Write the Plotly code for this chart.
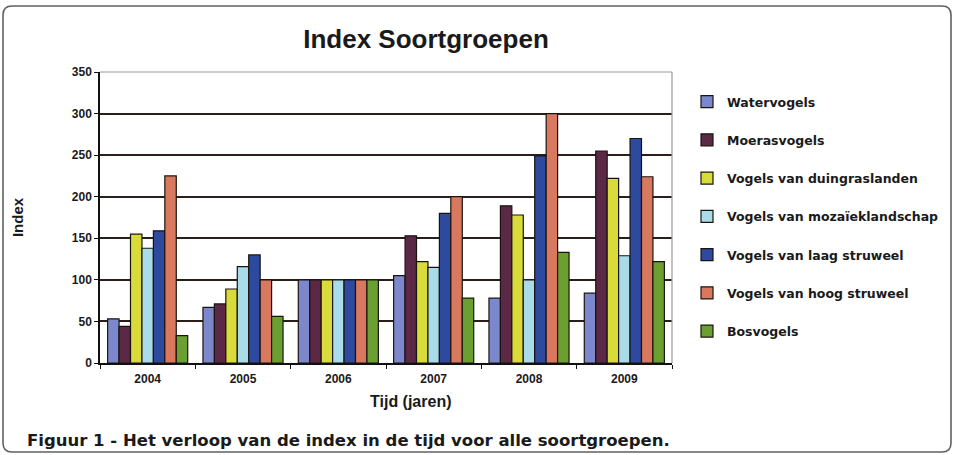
import plotly.graph_objects as go

years = ["2004", "2005", "2006", "2007", "2008", "2009"]
series_names = [
    "Watervogels",
    "Moerasvogels",
    "Vogels van duingraslanden",
    "Vogels van mozaïeklandschap",
    "Vogels van laag struweel",
    "Vogels van hoog struweel",
    "Bosvogels",
]
watervogels = [53, 67, 100, 105, 78, 84]
moerasvogels = [44, 71, 100, 153, 189, 255]
duingraslanden = [155, 89, 100, 122, 178, 222]
mozaiek = [138, 116, 100, 115, 100, 129]
laag_struweel = [159, 130, 100, 180, 249, 270]
hoog_struweel = [225, 100, 100, 200, 300, 224]
bosvogels = [33, 56, 100, 78, 133, 122]
y_ticks = [0, 50, 100, 150, 200, 250, 300, 350]

values = [watervogels, moerasvogels, duingraslanden, mozaiek,
          laag_struweel, hoog_struweel, bosvogels]
colors = ["#7d88cc", "#5b2845", "#d9db3a", "#a9dbe8", "#2e4a9e", "#d8785f", "#6b9f32"]

FONT = "Liberation Sans, Arial, sans-serif"
WIDE = "DejaVu Sans, Liberation Sans, sans-serif"
W, H = 954, 455
L, R, T, B = 100, 672, 72, 363

fig = go.Figure()
for name, vals, col in zip(series_names, values, colors):
    fig.add_trace(go.Bar(
        x=years, y=vals, name="<b>" + name + "</b>",
        marker=dict(color=col, line=dict(color="#1a1410", width=1.2)),
        legendgroup=name,
    ))

def px_x(px):
    return (px - L) / (R - L)

def px_y(py):
    return (B - py) / (B - T)

# rounded outer frame (in paper coordinates)
x0, x1, y0, y1 = px_x(3), px_x(951), px_y(452), px_y(6)
rx = 9 / (R - L)
ry = 9 / (B - T)
path = (f"M {x0+rx},{y1} L {x1-rx},{y1} Q {x1},{y1} {x1},{y1-ry} "
        f"L {x1},{y0+ry} Q {x1},{y0} {x1-rx},{y0} L {x0+rx},{y0} "
        f"Q {x0},{y0} {x0},{y0+ry} L {x0},{y1-ry} Q {x0},{y1} {x0+rx},{y1} Z")
fig.add_shape(type="path", path=path, xref="paper", yref="paper",
              line=dict(color="#606060", width=1.6), layer="below")

# light top/right plot borders
fig.add_shape(type="line", xref="paper", yref="paper", x0=0, x1=1, y0=1, y1=1,
              line=dict(color="#9a9a9a", width=1.2))
fig.add_shape(type="line", xref="paper", yref="paper", x0=1, x1=1, y0=0, y1=1,
              line=dict(color="#9a9a9a", width=1.2))

fig.add_annotation(
    text="<b>Tijd (jaren)</b>",
    xref="paper", yref="paper", x=px_x(411), y=px_y(401),
    xanchor="center", yanchor="middle", showarrow=False,
    font=dict(family=FONT, size=16, color="#1a1a1a"),
)
fig.add_annotation(
    text="<b>Figuur 1 - Het verloop van de index in de tijd voor alle soortgroepen.</b>",
    xref="paper", yref="paper", x=px_x(25), y=px_y(440),
    xanchor="left", yanchor="middle", showarrow=False,
    font=dict(family=WIDE, size=16.5, color="#1a1a1a"),
)

fig.update_layout(
    width=W, height=H,
    margin=dict(l=L, r=W - R, t=T, b=H - B, autoexpand=False),
    paper_bgcolor="white", plot_bgcolor="white",
    barmode="group", bargap=0.16, bargroupgap=0,
    title=dict(text="<b>Index Soortgroepen</b>", x=px_x(426), xref="paper",
               y=1 - 39 / H, yref="container", xanchor="center", yanchor="middle",
               font=dict(family=FONT, size=26, color="#1a1a1a")),
    font=dict(family=FONT, color="#1a1a1a"),
    legend=dict(
        xref="container", yref="container",
        x=687 / W, y=1 - 87 / H, xanchor="left", yanchor="top",
        font=dict(family=WIDE, size=12.5, color="#1a1a1a"),
        tracegroupgap=19, itemwidth=30, bgcolor="rgba(0,0,0,0)",
        maxheight=400,
    ),
    showlegend=True,
)
fig.update_xaxes(
    type="category", showline=True, linecolor="#111111", linewidth=1.5,
    ticks="outside", tickson="boundaries", ticklen=4, tickcolor="#111111",
    tickfont=dict(family=FONT, size=12, color="#1a1a1a"),
    tickprefix="<b>", ticksuffix="</b>", ticklabelstandoff=4,
    showgrid=False,
)
fig.update_yaxes(
    range=[0, 350], tickvals=y_ticks, ticktext=[f"<b>{v}</b>" for v in y_ticks],
    showline=True, linecolor="#111111", linewidth=1.5,
    ticks="outside", ticklen=4, tickcolor="#111111",
    tickfont=dict(family=FONT, size=12, color="#1a1a1a"),
    showgrid=True, gridcolor="#2a1f18", gridwidth=1.5,
    zeroline=False,
    title=dict(text="<b>Index</b>", font=dict(family=FONT, size=15, color="#1a1a1a"),
               standoff=45),
)

fig.write_html("out.html", config={"displayModeBar": False},
               post_script="document.body.style.margin='0px';")
